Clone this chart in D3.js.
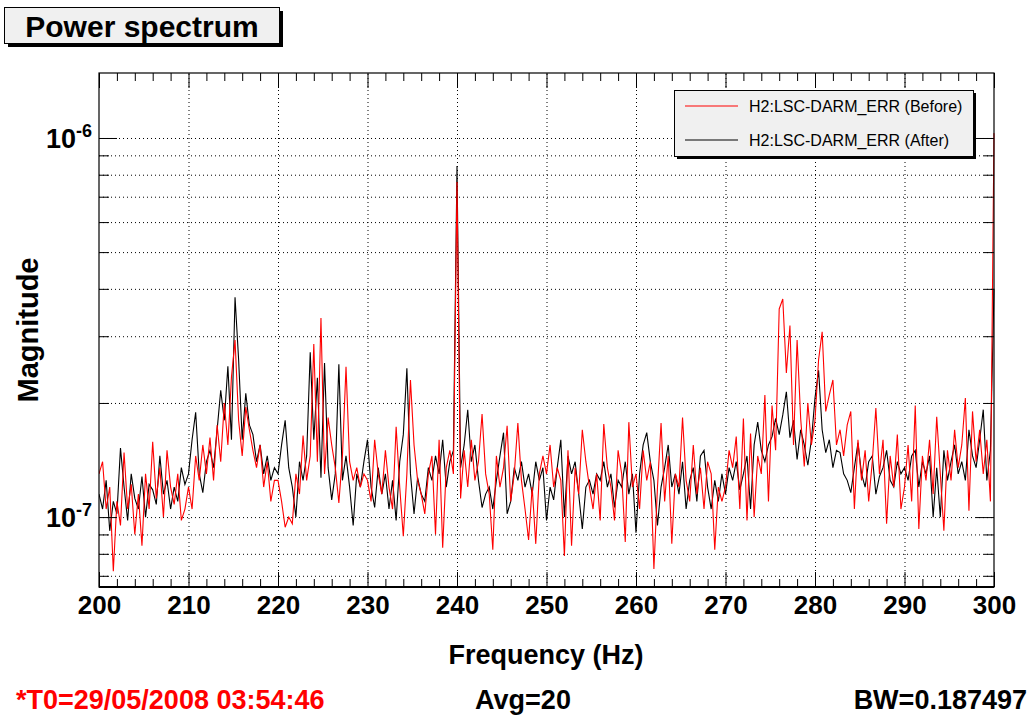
<!DOCTYPE html>
<html><head><meta charset="utf-8">
<script src="https://cdn.jsdelivr.net/npm/d3@7"></script>
<style>
body{margin:0;background:#fff}
svg{display:block}
text{font-family:"Liberation Sans",Arial,Helvetica,sans-serif}
</style>
</head><body>
<svg id="c" width="1030" height="719"></svg>
<script>
// ---------- DATA (magnitudes in units of 1e-7) ----------
const UNIT = 1e-7;
const freqStart = 200, freqStep = 0.4;
const seriesNames = ["H2:LSC-DARM_ERR (Before)", "H2:LSC-DARM_ERR (After)"];
const seriesColors = ["#ff0000", "#000000"];
const before = [
1.30,1.40,1.05,1.20,0.72,1.10,0.95,1.48,1.05,1.22,0.90,1.15,0.84,1.30,1.05,1.58,1.12,1.35,1.00,1.50,1.20,1.08,1.30,0.98,1.05,
1.20,1.05,1.45,1.25,1.55,1.30,1.62,1.25,1.75,1.40,2.00,1.55,2.34,2.93,1.80,1.45,1.95,1.70,1.50,1.35,1.55,1.20,1.40,1.10,1.25,
1.25,1.10,0.94,1.00,0.96,1.30,1.15,1.64,1.25,1.45,2.86,1.40,3.35,1.30,1.83,1.55,1.35,1.09,1.45,2.49,1.40,1.25,1.35,1.20,1.30,
1.25,1.10,1.60,1.30,1.15,1.50,1.20,1.05,1.73,1.20,0.89,1.30,2.30,1.55,1.25,1.15,1.02,1.30,1.45,0.90,1.60,0.83,1.35,1.50,1.30,
7.65,1.12,1.50,1.20,1.60,1.25,1.40,1.87,1.30,1.15,0.82,1.45,1.20,1.35,1.74,1.10,1.30,1.77,1.25,1.05,0.87,1.20,0.85,1.30,1.45,
1.30,1.55,1.20,1.35,1.25,0.79,1.50,0.84,1.35,1.15,1.70,1.40,1.20,1.05,1.30,0.98,1.76,1.35,1.20,0.98,1.50,1.30,0.86,1.78,1.20,
1.30,1.05,1.50,1.25,1.40,0.73,1.20,1.77,1.10,1.45,0.85,1.30,1.20,1.83,1.25,1.10,1.55,1.15,1.35,1.05,1.40,1.30,0.82,1.20,1.10,
1.20,1.50,1.35,1.63,1.05,1.82,0.98,1.66,1.00,1.45,1.30,2.10,1.10,1.97,1.50,3.54,3.76,2.40,3.20,1.55,2.93,1.82,1.36,2.00,1.55,
1.80,2.60,3.08,1.90,2.10,2.30,1.55,1.70,1.45,1.75,1.90,1.05,1.60,1.25,1.50,1.10,1.40,1.94,1.30,1.60,0.96,1.45,1.20,1.65,1.05,
1.20,1.55,1.10,1.97,0.93,1.45,1.25,1.60,1.15,1.84,1.30,0.92,1.50,1.25,1.70,1.35,1.55,2.06,1.04,1.90,1.40,1.70,1.30,1.60,1.10,10.3
];
const after = [
1.15,1.05,1.25,0.92,1.10,1.02,1.52,1.20,0.98,1.30,1.12,1.05,1.28,1.00,1.22,1.18,1.08,1.45,1.15,1.25,1.05,1.20,1.10,1.35,1.22,
1.30,1.60,1.89,1.30,1.16,1.40,1.50,1.35,1.70,2.16,1.80,2.50,1.60,3.80,2.60,1.60,2.12,1.75,1.65,1.40,1.55,1.30,1.45,1.25,1.35,
1.30,1.55,1.80,1.35,1.20,1.00,1.40,1.25,1.45,2.72,1.60,2.33,1.27,2.55,1.35,1.11,1.30,2.53,1.25,1.45,1.20,0.95,1.30,1.20,1.40,
1.60,1.20,1.06,1.35,1.15,1.30,1.05,1.25,0.98,1.40,1.65,2.47,1.30,1.02,1.27,1.15,1.10,1.35,1.25,1.45,1.30,1.60,1.20,1.40,1.50,
8.44,1.35,1.55,1.92,1.40,1.55,1.25,1.06,1.15,1.20,1.05,1.25,1.45,1.67,1.02,1.10,1.35,1.25,1.40,1.20,1.30,1.15,1.40,1.25,1.35,
0.98,1.20,1.11,1.35,1.60,1.00,1.45,1.30,1.40,1.15,0.93,1.20,1.25,1.15,1.30,1.25,1.40,1.20,1.30,1.06,1.25,1.20,1.40,1.15,1.30,
0.91,1.30,1.55,1.67,1.40,1.25,0.95,1.20,1.35,1.55,1.20,1.30,1.15,1.40,1.05,1.25,1.35,1.10,1.45,1.50,1.20,1.05,1.25,1.10,1.30,
1.15,1.35,1.25,1.40,1.18,1.30,1.45,1.05,1.55,1.78,1.50,1.40,1.55,1.63,1.82,1.65,1.86,2.14,1.62,1.80,1.42,1.70,1.55,1.37,1.60,
2.06,2.44,1.70,1.48,1.60,1.35,1.50,1.48,1.30,1.25,1.16,1.35,1.57,1.30,1.20,1.40,1.45,1.15,1.28,1.35,1.50,1.25,1.20,1.40,1.30,
1.35,1.25,1.45,1.50,1.20,1.40,1.30,1.45,1.00,1.35,1.00,1.50,1.25,1.40,1.55,1.30,1.40,1.25,1.70,1.45,1.35,1.60,1.92,1.25,1.50,4.00
];
const xMajorTicks = [200,210,220,230,240,250,260,270,280,290,300];
const xMinorTicks = [202,204,206,208,212,214,216,218,222,224,226,228,232,234,236,238,242,244,246,248,252,254,256,258,262,264,266,268,272,274,276,278,282,284,286,288,292,294,296,298];
const yMajorTicks = [1e-7, 1e-6];
const yMajorExp = ["-7", "-6"];
const yMinorTicks = [7e-8,8e-8,9e-8,2e-7,3e-7,4e-7,5e-7,6e-7,7e-7,8e-7,9e-7];
const xDomain = [200, 300];
const yDomain = [6.54e-8, 1.484e-6];
const titleText = "Power spectrum";
const xTitle = "Frequency (Hz)";
const yTitle = "Magnitude";
const footLeft = "*T0=29/05/2008 03:54:46";
const footMid = "Avg=20";
const footRight = "BW=0.187497";

// ---------- LAYOUT ----------
const L = 99, R = 994, T = 73, B = 587;
const svg = d3.select("#c");
const x = d3.scaleLinear().domain(xDomain).range([L, R]);
const y = d3.scaleLog().domain(yDomain).range([B, T]);

const toPts = arr => arr.map((v, i) => [freqStart + i * freqStep, v * UNIT]);

// gridlines
const grid = svg.append("g").attr("class", "grid");
grid.append("g").attr("transform", `translate(0,${B})`)
  .call(d3.axisBottom(x).tickValues(xMajorTicks.slice(1, -1)).tickSize(-(B - T)).tickFormat(""));
grid.append("g").attr("transform", `translate(${L},0)`)
  .call(d3.axisLeft(y).tickValues(yMajorTicks.concat(yMinorTicks)).tickSize(-(R - L)).tickFormat(""));
grid.selectAll(".domain").remove();
grid.selectAll("line").attr("stroke", "#000").attr("stroke-width", 1).attr("stroke-dasharray", "1,3");

// clip (slightly wider so the edge spike stays visible)
svg.append("clipPath").attr("id", "clip").append("rect")
  .attr("x", L).attr("y", T).attr("width", R - L + 1.5).attr("height", B - T);

const line = d3.line().x(d => x(d[0])).y(d => y(d[1]));
const plot = svg.append("g").attr("clip-path", "url(#clip)");
plot.append("path").datum(toPts(after)).attr("d", line)
  .attr("fill", "none").attr("stroke", seriesColors[1]).attr("stroke-width", 1.1);
plot.append("path").datum(toPts(before)).attr("d", line)
  .attr("fill", "none").attr("stroke", seriesColors[0]).attr("stroke-width", 1.1);

// axes ticks
function tickAxis(g) { g.selectAll(".domain").remove(); g.selectAll("line").attr("stroke", "#000").attr("stroke-width", 1); }
const xb = svg.append("g").attr("transform", `translate(0,${B})`)
  .call(d3.axisBottom(x).tickValues(xMajorTicks).tickSize(-15).tickPadding(10).tickFormat(d3.format("d")));
tickAxis(xb);
xb.selectAll("text").attr("font-size", 26).attr("font-weight", "bold").attr("fill", "#000")
  .attr("dy", null).attr("y", 27);
svg.append("g").attr("transform", `translate(0,${B})`)
  .call(d3.axisBottom(x).tickValues(xMinorTicks).tickSize(-8).tickFormat("")).call(tickAxis);
svg.append("g").attr("transform", `translate(0,${T})`)
  .call(d3.axisTop(x).tickValues(xMajorTicks).tickSize(-15).tickFormat("")).call(tickAxis);
svg.append("g").attr("transform", `translate(0,${T})`)
  .call(d3.axisTop(x).tickValues(xMinorTicks).tickSize(-8).tickFormat("")).call(tickAxis);

const yl = svg.append("g").attr("transform", `translate(${L},0)`)
  .call(d3.axisLeft(y).tickValues(yMajorTicks).tickSize(-18).tickFormat(""));
tickAxis(yl);
svg.append("g").attr("transform", `translate(${L},0)`)
  .call(d3.axisLeft(y).tickValues(yMinorTicks).tickSize(-10).tickFormat("")).call(tickAxis);
svg.append("g").attr("transform", `translate(${R},0)`)
  .call(d3.axisRight(y).tickValues(yMajorTicks).tickSize(-18).tickFormat("")).call(tickAxis);
svg.append("g").attr("transform", `translate(${R},0)`)
  .call(d3.axisRight(y).tickValues(yMinorTicks).tickSize(-10).tickFormat("")).call(tickAxis);

// y tick labels 10^n
yMajorTicks.forEach((v, i) => {
  const t = svg.append("text").attr("x", 92).attr("y", y(v) + 10)
    .attr("text-anchor", "end").attr("font-size", 27).attr("font-weight", "bold");
  t.append("tspan").text("10");
  t.append("tspan").attr("font-size", 18).attr("dy", -11).text(yMajorExp[i]);
});

// frame
svg.append("rect").attr("x", L).attr("y", T).attr("width", R - L).attr("height", B - T)
  .attr("fill", "none").attr("stroke", "#000").attr("stroke-width", 1.2);
svg.append("line").attr("x1", L).attr("x2", R).attr("y1", B).attr("y2", B)
  .attr("stroke", "#000").attr("stroke-width", 2);

// axis titles
svg.append("text").attr("x", 546).attr("y", 664).attr("text-anchor", "middle")
  .attr("font-size", 27).attr("font-weight", "bold").text(xTitle);
svg.append("text").attr("transform", "translate(38,330) rotate(-90)").attr("text-anchor", "middle")
  .attr("font-size", 29).attr("font-weight", "bold").text(yTitle);

// title box
svg.append("rect").attr("x", 8).attr("y", 11).attr("width", 275).attr("height", 36).attr("fill", "#000");
svg.append("rect").attr("x", 4.5).attr("y", 7.5).attr("width", 275).attr("height", 36)
  .attr("fill", "#f0f0f0").attr("stroke", "#000").attr("stroke-width", 1);
svg.append("text").attr("x", 142).attr("y", 37).attr("text-anchor", "middle")
  .attr("font-size", 30).attr("font-weight", "bold").text(titleText);

// legend
const lg = svg.append("g");
lg.append("rect").attr("x", 677).attr("y", 93).attr("width", 299).attr("height", 66).attr("fill", "#000");
lg.append("rect").attr("x", 674.5).attr("y", 90.5).attr("width", 299).attr("height", 66)
  .attr("fill", "#f0f0f0").attr("stroke", "#000").attr("stroke-width", 1);
[0, 1].forEach(i => {
  const yy = 106 + i * 34;
  lg.append("line").attr("x1", 685).attr("x2", 738).attr("y1", yy).attr("y2", yy)
    .attr("stroke", seriesColors[i]).attr("stroke-width", 1);
  lg.append("text").attr("x", 749).attr("y", yy + 6).attr("font-size", 16).text(seriesNames[i]);
});

// footer
svg.append("text").attr("x", 16).attr("y", 709).attr("font-size", 27).attr("font-weight", "bold")
  .attr("fill", "#ff0000").text(footLeft);
svg.append("text").attr("x", 523).attr("y", 709).attr("text-anchor", "middle").attr("font-size", 27)
  .attr("font-weight", "bold").text(footMid);
svg.append("text").attr("x", 1027).attr("y", 709).attr("text-anchor", "end").attr("font-size", 27)
  .attr("font-weight", "bold").text(footRight);
</script>
</body></html>
